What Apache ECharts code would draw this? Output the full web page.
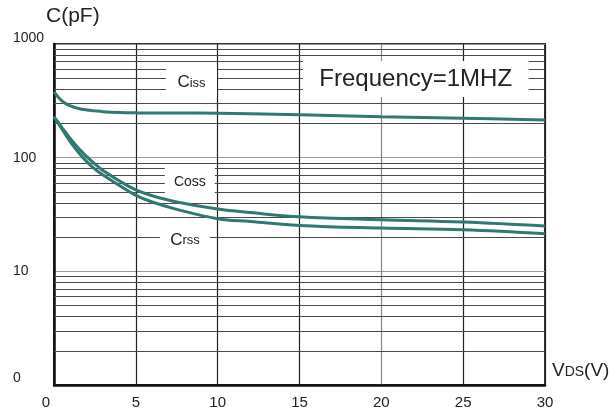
<!DOCTYPE html>
<html>
<head>
<meta charset="utf-8">
<script src="https://cdn.jsdelivr.net/npm/echarts@6/dist/echarts.min.js"></script>
<style>
  html, body { margin: 0; padding: 0; background: #fff; }
  #chart { width: 616px; height: 414px; }
</style>
</head>
<body>
<div id="chart"></div>
<script>
// Capacitance vs drain-source voltage
const vds  = [0, 0.5, 1, 1.5, 2, 2.5, 3, 4, 5, 6, 7.5, 10, 12, 15, 20, 25, 30];
const ciss = [380, 314, 285, 271, 263, 258, 254, 250, 248, 247, 247, 246, 243, 238, 229, 222, 215];
const coss = [229, 183, 147, 121, 102, 88, 77, 62.4, 52, 46.2, 40.7, 35.3, 32.9, 30.2, 28.4, 27.1, 25];
const crss = [229, 177, 138, 111, 92.3, 79.4, 70.5, 56.9, 46.6, 40.7, 35.1, 29.0, 27.4, 25.3, 24, 23.2, 21.4];

const xTickLabels = ['0', '5', '10', '15', '20', '25', '30'];
const yTickLabels = { 1: '0', 10: '10', 100: '100', 1000: '1000' };
const decades = [1, 10, 100];

const FONT = '"Liberation Sans", Arial, Helvetica, sans-serif';
const INK = '#222';
const CURVE = '#2e7a72';

// minor log grid lines at 2..9 of each decade
const minorLines = [];
decades.forEach(d => { for (let k = 2; k <= 9; k++) minorLines.push({ yAxis: k * d }); });

const pair = arr => vds.map((v, i) => [v, arr[i]]);

const curve = (name, arr) => ({
  name, type: 'line', z: 3, data: pair(arr), smooth: 0.4,
  showSymbol: false, lineStyle: { color: CURVE, width: 3 }, silent: true
});

const chart = echarts.init(document.getElementById('chart'), null, { renderer: 'canvas' });

chart.setOption({
  animation: false,
  backgroundColor: '#fff',
  textStyle: { fontFamily: FONT },
  title: {
    text: 'C(pF)', left: 41, top: 1,
    textStyle: { fontFamily: FONT, fontSize: 21, fontWeight: 'normal', color: INK }
  },
  grid: {
    left: 54, right: 71, top: 44, bottom: 29,
    show: true, borderColor: '#333', borderWidth: 2, backgroundColor: 'transparent'
  },
  xAxis: {
    type: 'value', min: 0, max: 30, interval: 5,
    axisLine: { show: true, lineStyle: { color: '#111', width: 2.5 } },
    axisTick: { show: false },
    axisLabel: {
      margin: 10, fontSize: 15, color: INK, fontFamily: FONT,
      formatter: v => v === 0 ? '{z|' + xTickLabels[0] + '}' : xTickLabels[Math.round(v / 5)],
      rich: { z: { fontFamily: FONT, fontSize: 15, color: INK, padding: [0, 16, 0, 0] } }
    },
    splitLine: {
      show: true,
      lineStyle: { color: ['#222', '#222', '#222', '#222', '#888', '#222', '#222'], width: 1.2 }
    }
  },
  yAxis: {
    type: 'log', logBase: 10, min: 1, max: 1000,
    axisLine: { show: true, lineStyle: { color: '#111', width: 2.5 } },
    axisTick: { show: false },
    axisLabel: {
      align: 'left', margin: 41, fontSize: 14, color: INK, fontFamily: FONT,
      formatter: v => {
        const k = Math.round(v);
        const t = yTickLabels[k] || '';
        if (k === 1000) return '{up|' + t + '}';
        if (k === 1) return '{lo|' + t + '}';
        return t;
      },
      rich: {
        up: { fontFamily: FONT, fontSize: 14, color: INK, padding: [0, 0, 12, 0] },
        lo: { fontFamily: FONT, fontSize: 14, color: INK, padding: [0, 0, 14, 0] }
      }
    },
    splitLine: { show: true, lineStyle: { color: '#999', width: 1.2 } },
    minorTick: { show: false }, minorSplitLine: { show: false }
  },
  graphic: [{
    type: 'text', left: 552, top: 361,
    style: {
      text: '{a|V}{b|DS}{a|(V)}',
      rich: {
        a: { fontFamily: FONT, fontSize: 19, fill: INK, color: INK, verticalAlign: 'bottom', lineHeight: 22 },
        b: { fontFamily: FONT, fontSize: 14, fill: INK, color: INK, verticalAlign: 'bottom', lineHeight: 22, padding: [0, 0, 1, 0] }
      }
    }
  }],
  series: [
    {
      // log grid lines between the decades
      name: 'grid', type: 'line', z: 1, data: [], silent: true,
      markLine: {
        silent: true, symbol: 'none', z: 1,
        label: { show: false },
        lineStyle: { color: '#4a4a4a', width: 1.2, type: 'solid' },
        emphasis: { disabled: true },
        data: minorLines
      }
    },
    curve('Ciss', ciss),
    curve('Coss', coss),
    curve('Crss', crss),
    {
      // curve names and test condition on white panels
      name: 'notes', type: 'line', z: 6, data: [], silent: true,
      markPoint: {
        silent: true, z: 6,
        symbol: 'rect',
        itemStyle: { color: '#fff' },
        label: {
          show: true, position: 'inside', color: INK, fontFamily: FONT,
          rich: {
            big: { fontFamily: FONT, fontSize: 17, color: INK, verticalAlign: 'bottom', lineHeight: 20 },
            sm: { fontFamily: FONT, fontSize: 13, color: INK, verticalAlign: 'bottom', lineHeight: 20, padding: [0, 0, 1, 0] },
            mid: { fontFamily: FONT, fontSize: 14, color: INK },
            cond: { fontFamily: FONT, fontSize: 24, color: INK }
          }
        },
        data: [
          { coord: [8.4, 473], symbolSize: [51, 32], label: { formatter: '{big|C}{sm|iss}' } },
          { coord: [22.1, 493], symbolSize: [226, 36], label: { formatter: '{cond|Frequency=1MHZ}' } },
          { coord: [8.3, 61.5], symbolSize: [50, 30], label: { formatter: '{mid|Coss}' } },
          { coord: [8.0, 19.5], symbolSize: [50, 22], label: { formatter: '{big|C}{sm|rss}' } }
        ]
      }
    }
  ]
});
</script>
</body>
</html>
